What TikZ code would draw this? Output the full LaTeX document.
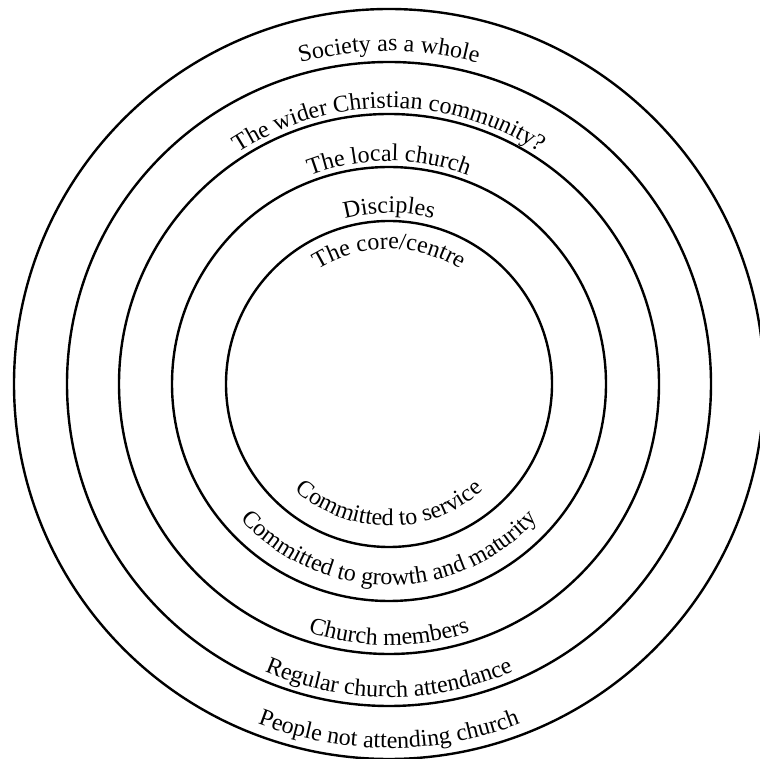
\documentclass[tikz,border=0pt]{standalone}
\usepackage{fontspec}
\setmainfont{Liberation Serif}
\usepackage{tikz}
\usetikzlibrary{
  decorations.text
}
\newcommand{\ringfont}{\fontsize{24}{28}\selectfont}
\tikzset{
  ring/.style={draw, line width=2.4pt, black},
  uplabel/.style={
    decorate, decoration={text along path, text={|\ringfont|#1}, text align=center}
  },
  downlabel/.style={
    decorate, decoration={text along path, text={|\ringfont|#1}, text align=center}
  }
}

\begin{document}
\begin{tikzpicture}[x=1pt, y=1pt]
  \useasboundingbox (0,0) rectangle (760,758);
  \coordinate (ctr) at (389,374);
  % circles, outer to inner
  \foreach \r in {375, 322, 270, 217, 163}
    \draw[ring] (ctr) circle[radius=\r];
  % labels across the top
  \path[uplabel={Society as a whole}]
    ([shift={(150:333)}]ctr) arc[start angle=150, end angle=30, radius=333];
  \path[uplabel={The wider Christian community?}]
    ([shift={(150:276)}]ctr) arc[start angle=150, end angle=30, radius=276];
  \path[uplabel={The local church}]
    ([shift={(150:223)}]ctr) arc[start angle=150, end angle=30, radius=223];
  \path[uplabel={Disciples}]
    ([shift={(150:171)}]ctr) arc[start angle=150, end angle=30, radius=171];
  \path[uplabel={The core/centre}]
    ([shift={(150:135)}]ctr) arc[start angle=150, end angle=30, radius=135];
  % labels across the bottom
  \path[downlabel={Committed to service}]
    ([shift={(210:142)}]ctr) arc[start angle=210, end angle=330, radius=142];
  \path[downlabel={Committed to growth and maturity}]
    ([shift={(210:201)}]ctr) arc[start angle=210, end angle=330, radius=201];
  \path[downlabel={Church members}]
    ([shift={(210:261)}]ctr) arc[start angle=210, end angle=330, radius=261];
  \path[downlabel={Regular church attendance}]
    ([shift={(210:313)}]ctr) arc[start angle=210, end angle=330, radius=313];
  \path[downlabel={People not attending church}]
    ([shift={(210:364)}]ctr) arc[start angle=210, end angle=330, radius=364];
\end{tikzpicture}
\end{document}
